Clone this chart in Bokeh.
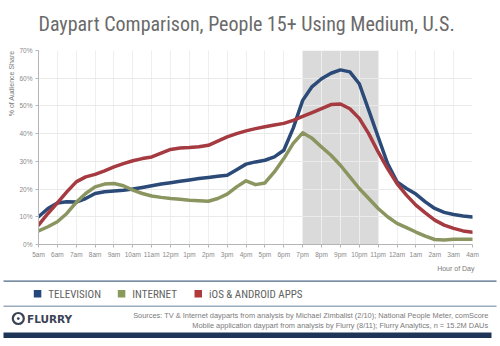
import numpy as np
from bokeh.plotting import figure
from bokeh.layouts import column
from bokeh.models import Range1d, FixedTicker, PrintfTickFormatter, BoxAnnotation, Title
from bokeh.core.properties import value
from bokeh.embed import file_html
from bokeh.resources import INLINE

# ---- data ----
hour_labels = ["5am", "6am", "7am", "8am", "9am", "10am", "11am", "12pm", "1pm", "2pm", "3pm",
               "4pm", "5pm", "6pm", "7pm", "8pm", "9pm", "10pm", "11pm", "12am", "1am", "2am",
               "3am", "4am"]
# readings every half hour, from 5am to 4am
television = [10, 13, 15, 15.4, 15.3, 16.6, 18.4, 19, 19.3, 19.6, 20, 20.6, 21.2, 21.8, 22.3,
              22.8, 23.3, 23.8, 24.2, 24.6, 25, 27, 29, 29.8, 30.4, 31.6, 34, 42, 52, 57,
              59.8, 61.8, 63, 62.3, 58, 48.5, 38.8, 29.2, 22.6, 20.2, 18.2, 15.4, 13, 11.6,
              10.8, 10.3, 9.9]
internet = [4.9, 6.4, 8.2, 11.2, 15.2, 18.4, 20.8, 21.8, 22, 21.2, 19.6, 18.4, 17.5, 17, 16.6,
            16.3, 16, 15.8, 15.6, 16.6, 18.2, 20.8, 23, 21.6, 22.2, 26.2, 31, 36.5, 40.3, 38.3,
            35.2, 32.2, 28.6, 24.4, 20.2, 16.6, 13, 10, 7.6, 6.1, 4.5, 3, 1.8, 1.6, 1.9, 1.9,
            1.9]
apps = [7, 11.2, 15, 19, 22.6, 24.4, 25.3, 26.6, 28, 29.2, 30.2, 31, 31.6, 33, 34.3, 34.8, 35,
        35.3, 35.8, 37.3, 38.8, 40, 41, 41.8, 42.5, 43.1, 43.7, 44.8, 46.2, 47.6, 49, 50.5,
        50.7, 49, 45.5, 40, 33.4, 27.4, 22, 17.8, 14.2, 11.4, 8.8, 7, 5.8, 4.9, 4.4]
series_names = ["TELEVISION", "INTERNET", "iOS & ANDROID APPS"]
series_colors = ["#2b4a78", "#8a9560", "#a53a40"]
legend_colors = ["#23477a", "#8a9a5b", "#b03a3a"]
y_ticks = [0, 10, 20, 30, 40, 50, 60, 70]
prime_time = (14, 18)  # 7pm to 11pm
title_text = "Daypart Comparison, People 15+ Using Medium, U.S."
source_lines = [
    "Sources: TV & Internet dayparts from analysis by Michael Zimbalist (2/10); National People Meter, comScore",
    "Mobile application daypart from analysis by Flurry (8/11); Flurry Analytics, n = 15.2M DAUs",
]

x_half = np.arange(len(television)) * 0.5

NARROW = "Liberation Sans Narrow, Roboto Condensed, Liberation Sans"
W = 500
HEAD_H = 40
MAIN_H = 240
FOOT_H = 66


def blank_fig(height, y_top):
    fig = figure(width=W, height=height, x_range=Range1d(0, W),
                 y_range=Range1d(y_top + height, y_top), output_backend="svg",
                 toolbar_location=None, x_axis_type=None, y_axis_type=None, title=None,
                 min_border=0, min_border_left=0, min_border_right=0, min_border_top=0,
                 min_border_bottom=0)
    fig.frame_align = False
    fig.outline_line_color = None
    fig.grid.visible = False
    fig.background_fill_color = "white"
    fig.border_fill_color = "white"
    return fig


# ---------------- header ----------------
h = blank_fig(HEAD_H, 0)
h.text(x=[38], y=[23], text=[title_text], text_font=value(NARROW), text_font_size="20px",
       text_color="#6a6a6a", text_baseline="middle", text_align="left")

# ---------------- main chart ----------------
p = figure(width=W, height=MAIN_H, x_range=Range1d(0, 23), y_range=Range1d(0, 70),
           output_backend="svg", toolbar_location=None, title=None,
           min_border_left=38, min_border_right=28, min_border_top=10, min_border_bottom=36)
p.frame_align = False
p.outline_line_color = None
p.background_fill_color = "white"
p.border_fill_color = "white"

p.xaxis.ticker = FixedTicker(ticks=list(range(len(hour_labels))))
p.xaxis.major_label_overrides = {i: s for i, s in enumerate(hour_labels)}
p.yaxis.ticker = FixedTicker(ticks=y_ticks)
p.yaxis.formatter = PrintfTickFormatter(format="%d%%")
for ax in (p.xaxis[0], p.yaxis[0]):
    ax.axis_line_color = "#b5b5b5"
    ax.major_tick_line_color = "#b5b5b5"
    ax.major_tick_out = 3
    ax.major_tick_in = 0
    ax.minor_tick_line_color = None
    ax.major_label_text_font_size = "6.5px"
    ax.major_label_text_color = "#8a8a8a"
    ax.major_label_text_font = "Liberation Sans"
    ax.major_label_standoff = 3
p.xgrid.ticker = FixedTicker(ticks=list(range(len(hour_labels))))
p.xgrid.grid_line_color = "#eeeeee"
p.ygrid.grid_line_color = "#eaeaea"

p.add_layout(Title(text="% of Audience Share", align="right", text_font_size="7px",
                   text_font="Liberation Sans", text_font_style="normal",
                   text_color="#7a7a7a", standoff=4), "left")
p.add_layout(Title(text="Hour of Day", align="right", text_font_size="7px",
                   text_font="Liberation Sans", text_font_style="normal",
                   text_color="#7a7a7a", standoff=4, offset=-2), "below")

p.add_layout(BoxAnnotation(left=prime_time[0], right=prime_time[1], fill_color="#dadada",
                           fill_alpha=1, line_color=None, level="image"))

for ys, c in zip([television, internet, apps], series_colors):
    p.line(x_half, ys, line_color=c, line_width=3.5, line_join="round", line_cap="round")

# ---------------- footer: rules, legend, sources ----------------
f = blank_fig(FOOT_H, HEAD_H + MAIN_H)

f.quad(left=[3, 3, 3], right=[496, 496, 491], top=[279.5, 305, 332],
       bottom=[281.2, 306.5, 337.5], fill_color=["#4d6784", "#9aabbe", "#1f3558"],
       line_color=None)

leg_x = [33.3, 117.3, 194]
f.quad(left=leg_x, right=[v + 7.5 for v in leg_x], top=[289.5] * 3, bottom=[297] * 3,
       fill_color=legend_colors, line_color=None)
f.text(x=[v + 14.5 for v in leg_x], y=[293.5] * 3, text=series_names,
       text_font=value(NARROW), text_font_size="11px", text_color="#626262",
       text_baseline="middle", text_align="left")

f.scatter(x=[17.8], y=[318], marker="circle_dot", size=11, line_width=2.2,
          line_color="#3b4456", fill_color="white")
f.text(x=[26.5], y=[318.5], text=["FLURRY"], text_font=value("DejaVu Sans"),
       text_font_style="bold", text_font_size="10.5px", text_color="#3b4456",
       text_baseline="middle", text_align="left")
f.text(x=[488, 488], y=[315, 325], text=source_lines, text_font=value("Liberation Sans"),
       text_font_size="7.4px", text_color="#7a7a7a", text_baseline="middle",
       text_align="right")

layout = column(h, p, f, spacing=0)
open("out.html", "w").write(file_html(layout, INLINE))
